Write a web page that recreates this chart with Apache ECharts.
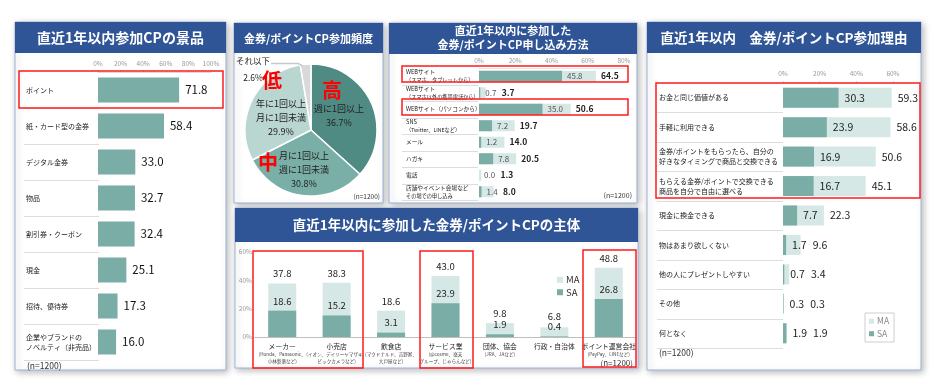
<!DOCTYPE html>
<html><head><meta charset="utf-8">
<script src="https://cdn.jsdelivr.net/npm/echarts@6/dist/echarts.min.js"></script>
<style>html,body{margin:0;padding:0;background:#fff}#c{width:940px;height:392px}</style>
</head><body><div id="c"></div><script>
// ---------- data ----------
const prizeCats = ['ポイント','紙・カード型の金券','デジタル金券','物品','割引券・クーポン','現金','招待、優待券','企業やブランドの\nノベルティ（非売品）'];
const prizeVals = [71.8,58.4,33.0,32.7,32.4,25.1,17.3,16.0];

const freqNames = ['週に1回以上','月に1回以上\n週に1回未満','年に1回以上\n月に1回未満','それ以下'];
const freqVals = [36.7,30.8,29.9,2.6];

const methodCats = ['WEBサイト\n（スマホ、タブレットから）','WEBサイト\n（スマホ以外の携帯電話から）','WEBサイト（パソコンから）','SNS\n（Twitter、LINEなど）','メール','ハガキ','電話','店舗やイベント会場など\nその場での申し込み'];
const methodSA = [45.8,0.7,35.0,7.2,1.2,7.8,0.0,1.4];
const methodMA = [64.5,3.7,50.6,19.7,14.0,20.5,1.3,8.0];

const entityCats = ['メーカー','小売店','飲食店','サービス業','団体、協会','行政・自治体','ポイント運営会社'];
const entitySubs = ['(Honda、Panasonic、\n小林製薬など)','(イオン、デイリーヤマザキ、\nビックカメラなど)','(マクドナルド、吉野家、\n大戸屋など)','(@cosme、楽天\nグループ、じゃらんなど)','(JRA、JAなど)','','(PayPay、LINEなど)'];
const entitySA = [18.6,15.2,3.1,23.9,1.9,0.4,26.8];
const entityMA = [37.8,38.3,18.6,43.0,9.8,6.8,48.8];

const reasonCats = ['お金と同じ価値がある','手軽に利用できる','金券/ポイントをもらったら、自分の\n好きなタイミングで商品と交換できる','もらえる金券/ポイントで交換できる\n商品を自分で自由に選べる','現金に換金できる','物はあまり欲しくない','他の人にプレゼントしやすい','その他','何となく'];
const reasonSA = [30.3,23.9,16.9,16.7,7.7,1.7,0.7,0.3,1.9];
const reasonMA = [59.3,58.6,50.6,45.1,22.3,9.6,3.4,0.3,1.9];

// ---------- styles ----------
const F = '"Noto Sans CJK JP","Noto Sans",sans-serif';
const BLUE = '#2F5597', SA_C = '#79ADA6', MA_C = '#D5E8E5';
const PIE_C = ['#4F8B83','#79AFA7','#B9D6D1','#D9D9D9'];
const pct = v => v + '%';
const fmt1 = p => Number(p.value).toFixed(1);

// layout
const G1 = {left:98, top:72, width:113, height:288};
const G3 = {left:479, top:68, width:145, height:132};
const G4 = {left:255, top:252, width:381, height:85};
const G5 = {left:783, top:83, width:110, height:265};
const PIE_LABEL_POS = [[339,116],[304,170],[281,118],[253,69]];

// MA label must not overlap SA label (horizontal)
function maLayoutH(sa, ma, font, gap){
  return function(p){
    const i = p.dataIndex;
    if (!ma[i]) return {};
    const per = p.rect.width / ma[i];
    const saEnd = p.rect.x + sa[i]*per;
    const saW = sa[i].toFixed(1).length * font * 0.56;
    const minX = saEnd + 5 + saW + gap;
    if (p.labelRect.x < minX) return {dx: minX - p.labelRect.x};
    return {};
  };
}
function maLayoutV(sa, ma, font){
  return function(p){
    const i = p.dataIndex;
    const per = p.rect.height / ma[i];
    const saTop = p.rect.y + p.rect.height - sa[i]*per;
    const saLabelTop = saTop - 5 - font*1.1;
    const lb = p.labelRect.y + p.labelRect.height;
    if (lb > saLabelTop) return {dy: saLabelTop - lb};
    return {};
  };
}

// ---------- graphics ----------
const g = [];
function panel(x,y,w,h,hh){
  g.push({type:'rect', z:-5, shape:{x,y,width:w,height:h}, style:{fill:'#fff', stroke:'#9DB2D6', lineWidth:1, shadowBlur:7, shadowColor:'rgba(0,0,0,0.28)', shadowOffsetX:2, shadowOffsetY:2}});
  g.push({type:'rect', z:-4, shape:{x,y,width:w,height:hh}, style:{fill:BLUE}});
}
function htext(x,y,t,fs){
  g.push({type:'text', z:10, style:{x,y,text:t,fill:'#fff',font:'bold '+fs+'px '+F, align:'center', verticalAlign:'middle', lineHeight:fs+3}});
}
function redBox(x1,y1,x2,y2){
  g.push({type:'rect', z:20, shape:{x:x1,y:y1,width:x2-x1,height:y2-y1}, style:{fill:'none', stroke:'#FF1A1A', lineWidth:1.5}});
}
function seps(x1,x2,top,h,n,from){
  for(let i=from;i<=n;i++){const y=Math.round(top+h*i/n)+0.5; g.push({type:'line', z:-1, shape:{x1,y1:y,x2,y2:y}, style:{stroke:'#DDDDDD', lineWidth:1}});}
}
function note(x,y,t,fs,align){
  g.push({type:'text', z:10, style:{x,y,text:t,fill:'#333',font:fs+'px '+F, align:align||'left', verticalAlign:'middle'}});
}
panel(15,22,211,348,31);
panel(234,23,149,180,30);
panel(389,23,248,180,31);
panel(235,208,403,160,34);
panel(647,22,274,348,31);
htext(120.5,37.5,'直近1年以内参加CPの景品',14);
htext(308.5,38.5,'金券/ポイントCP参加頻度',11);
htext(513,38,'直近1年以内に参加した\n金券/ポイントCP申し込み方法',11);
htext(436.5,225,'直近1年以内に参加した金券/ポイントCPの主体',13.5);
htext(784,37.5,'直近1年以内　金券/ポイントCP参加理由',13.5);
seps(24,99,G1.top,G1.height,8,1);
seps(402,478,G3.top,G3.height,8,1);
seps(657,783,G5.top,G5.height,9,1);
note(27,366,'(n=1200)',8.5);
note(380,197,'(n=1200)',6.5,'right');
note(632,195,'(n=1200)',7,'right');
note(633,363,'(n=1200)',8,'right');
note(659,353,'(n=1200)',8.5);
// pie leader line for the small slice and annotations
g.push({type:'polyline', z:5, shape:{points:[[271,63.5],[298,63.5],[303,66]]}, style:{stroke:'#C8C8C8', lineWidth:1.5, fill:'none'}});
[['高',332,90],['中',268,162],['低',272,80]].forEach(a=>g.push({type:'text',z:10,style:{x:a[1],y:a[2],text:a[0],fill:'#FF0000',font:'bold 20px '+F,align:'center',verticalAlign:'middle'}}));
redBox(19,71,223,108);
redBox(402,66,628,82);
redBox(402,99,628,115);
redBox(253,251,363,368);
redBox(420,251,473,368);
redBox(583,250,636,367);
redBox(656,83,920,198);

// ---------- chart ----------
const axLab = {color:'#999', fontSize:6.5, fontFamily:F};
const catLab = (fs, margin, lh) => ({align:'left', margin, color:'#222', fontSize:fs, lineHeight:lh, fontFamily:F});

const option = {
  animation:false,
  textStyle:{fontFamily:F},
  graphic:g,
  grid:[
    Object.assign({containLabel:false}, G1),
    Object.assign({containLabel:false}, G3),
    Object.assign({containLabel:false}, G4),
    Object.assign({containLabel:false}, G5)
  ],
  legend:[
    {data:['MA','SA'], orient:'vertical', left:552, top:270, itemWidth:6, itemHeight:6, itemGap:3, icon:'rect', textStyle:{fontSize:9.5, color:'#333', fontFamily:F, padding:[0,0,0,-2]}},
    {data:['MA','SA'], orient:'vertical', left:865, top:313, itemWidth:5, itemHeight:5, itemGap:4, icon:'rect', padding:[4,5,4,4], borderColor:'#CFCFCF', borderWidth:1, textStyle:{fontSize:8.5, color:'#888', fontFamily:F, padding:[0,0,0,-2]}}
  ],
  xAxis:[
    {gridIndex:0, type:'value', position:'top', min:0, max:100, interval:20, axisLabel:Object.assign({formatter:pct, margin:5}, axLab), axisLine:{show:true, lineStyle:{color:'#D9D9D9'}}, axisTick:{show:true, length:2, lineStyle:{color:'#D9D9D9'}}, splitLine:{show:false}},
    {gridIndex:1, type:'value', position:'top', min:0, max:80, interval:20, axisLabel:Object.assign({formatter:pct, margin:4}, axLab), axisLine:{show:true, lineStyle:{color:'#E3E3E3'}}, axisTick:{show:false}, splitLine:{show:false}},
    {gridIndex:2, type:'category', data:entityCats, axisLine:{show:true, lineStyle:{color:'#BFBFBF'}}, axisTick:{show:false},
      axisLabel:{interval:0, margin:4, color:'#222', fontFamily:F,
        formatter:(v,i)=>{const s=entitySubs[i]; let r='{m|'+v+'}'; if(s) s.split('\n').forEach(l=>r+='\n{s|'+l+'}'); return r;},
        rich:{m:{fontSize:6.8, lineHeight:10, color:'#222', fontFamily:F}, s:{fontSize:4.6, lineHeight:7, color:'#444', fontFamily:F}}}},
    {gridIndex:3, type:'value', position:'top', min:0, max:60, interval:20, axisLabel:Object.assign({formatter:pct, margin:6}, axLab), axisLine:{show:false}, axisTick:{show:true, length:2, lineStyle:{color:'#D9D9D9'}}, splitLine:{show:false}}
  ],
  yAxis:[
    {gridIndex:0, type:'category', inverse:true, data:prizeCats, axisLine:{show:false}, axisTick:{show:false}, axisLabel:catLab(7,72,10)},
    {gridIndex:1, type:'category', inverse:true, data:methodCats, axisLine:{show:false}, axisTick:{show:false},
      axisLabel:Object.assign(catLab(5.7,73,8), {
        formatter:v=>v.split('\n').map((l,k)=>k===0?'{m|'+l+'}':'{s|'+l+'}').join('\n'),
        rich:{m:{fontSize:5.7, lineHeight:8, color:'#222', fontFamily:F}, s:{fontSize:5.2, lineHeight:8, color:'#222', fontFamily:F}}})},
    {gridIndex:2, type:'value', min:0, max:60, interval:20, axisLine:{show:false}, axisTick:{show:false}, splitLine:{show:false}, axisLabel:Object.assign({formatter:pct, margin:3}, axLab)},
    {gridIndex:3, type:'category', inverse:true, data:reasonCats, axisLine:{show:false}, axisTick:{show:false}, axisLabel:catLab(7,124,10)}
  ],
  series:[
    {name:'景品', type:'bar', xAxisIndex:0, yAxisIndex:0, data:prizeVals, barWidth:25, itemStyle:{color:SA_C},
      label:{show:true, position:'right', distance:6, formatter:fmt1, fontSize:11.5, color:'#111', fontFamily:F}},
    {name:'頻度', type:'pie', center:[311,130], radius:66, startAngle:90, clockwise:true,
      itemStyle:{borderColor:'#fff', borderWidth:1.5},
      label:{show:true, position:'inside', formatter:p=>p.name+'\n'+p.value.toFixed(1)+'%', fontSize:9, lineHeight:14, color:'#222', fontFamily:F},
      labelLine:{show:false},
      labelLayout:function(p){
        const q = PIE_LABEL_POS[p.dataIndex];
        return {x:q[0], y:q[1], align:'center', verticalAlign:'middle'};
      },
      data:freqVals.map((v,i)=>{
        const d={name:freqNames[i], value:v, itemStyle:{color:PIE_C[i]}};
        if(i===3){ d.label={position:'outside', lineHeight:17, fontSize:8.5}; }
        return d;
      })},
    {name:'MA', type:'bar', xAxisIndex:1, yAxisIndex:1, data:methodMA, barWidth:11, barGap:'-100%', itemStyle:{color:MA_C},
      label:{show:true, position:'right', distance:5, formatter:fmt1, fontSize:8.5, fontWeight:'bold', color:'#222', fontFamily:F},
      labelLayout:maLayoutH(methodSA, methodMA, 8, 3)},
    {name:'SA', type:'bar', xAxisIndex:1, yAxisIndex:1, data:methodSA, barWidth:11, barGap:'-100%', itemStyle:{color:SA_C},
      label:{show:true, position:'right', distance:5, formatter:fmt1, fontSize:8, color:'#555', fontFamily:F}},
    {name:'MA', type:'bar', xAxisIndex:2, yAxisIndex:2, data:entityMA, barWidth:28, barGap:'-100%', itemStyle:{color:MA_C},
      label:{show:true, position:'top', distance:5, formatter:fmt1, fontSize:9.5, color:'#222', fontFamily:F},
      labelLayout:maLayoutV(entitySA, entityMA, 9.5)},
    {name:'SA', type:'bar', xAxisIndex:2, yAxisIndex:2, data:entitySA, barWidth:28, barGap:'-100%', itemStyle:{color:SA_C},
      label:{show:true, position:'top', distance:5, formatter:fmt1, fontSize:9.5, color:'#222', fontFamily:F}},
    {name:'MA', type:'bar', xAxisIndex:3, yAxisIndex:3, data:reasonMA, barWidth:20, barGap:'-100%', itemStyle:{color:MA_C},
      label:{show:true, position:'right', distance:6, formatter:fmt1, fontSize:10.5, color:'#222', fontFamily:F},
      labelLayout:maLayoutH(reasonSA, reasonMA, 10.5, 4)},
    {name:'SA', type:'bar', xAxisIndex:3, yAxisIndex:3, data:reasonSA, barWidth:20, barGap:'-100%', itemStyle:{color:SA_C},
      label:{show:true, position:'right', distance:6, formatter:fmt1, fontSize:10.5, color:'#222', fontFamily:F}}
  ]
};
const chart = echarts.init(document.getElementById('c'), null, {renderer:'canvas'});
chart.setOption(option);
</script></body></html>
